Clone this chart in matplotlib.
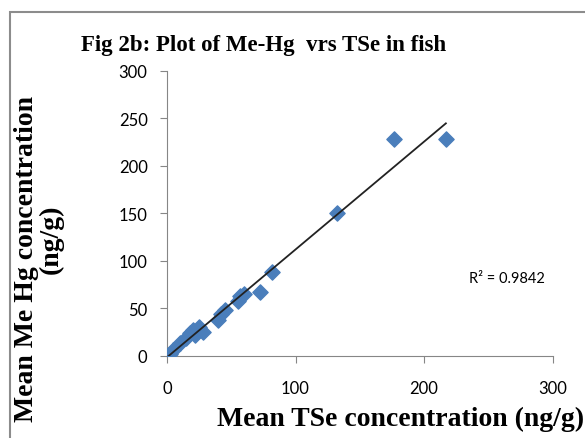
import matplotlib.pyplot as plt
import numpy as np
from matplotlib.patches import Rectangle

# mean TSe vs mean Me-Hg in fish (ng/g)
tse = [2, 5, 10, 15, 18, 20, 22, 25, 28, 40, 42, 45, 55, 57, 60, 72, 82, 132, 177, 217]
mehg = [2, 6, 14, 19, 24, 27, 22, 30, 25, 38, 44, 48, 58, 63, 65, 67, 88, 151, 228, 228]
xticks = [0, 100, 200, 300]
yticks = [0, 50, 100, 150, 200, 250, 300]

fig = plt.figure(figsize=(5.85, 4.39), dpi=100)
ax = fig.add_axes([0.2855, 0.187, 0.659, 0.649])

ax.scatter(tse, mehg, marker='D', s=60, color='#4A7EBB', zorder=3)

# linear trendline
slope, icpt = np.polyfit(tse, mehg, 1)
xs = np.array([0, max(tse)])
ax.plot(xs, slope * xs + icpt, color='#222222', lw=1.3, zorder=4)

ax.set_xlim(0, 300)
ax.set_ylim(0, 300)
ax.set_xticks(xticks)
ax.set_yticks(yticks)
for s in ['top', 'right']:
    ax.spines[s].set_visible(False)
for s in ['left', 'bottom']:
    ax.spines[s].set_color('#868686')
ax.tick_params(colors='#868686', labelcolor='black', labelsize=12, length=5,
               direction='out')
for lab in ax.get_xticklabels() + ax.get_yticklabels():
    lab.set_family('Lato')
ax.tick_params(axis='x', pad=12)
ax.tick_params(axis='y', pad=9)

ax.text(235, 78, 'R² = 0.9842', fontsize=10.5, family='Lato')

fig.text(0.451, 0.897, 'Fig 2b: Plot of Me-Hg  vrs TSe in fish', ha='center',
         va='center', family='Liberation Serif', fontweight='bold', fontsize=16.5)
fig.text(0.685, 0.045, 'Mean TSe concentration (ng/g)', ha='center',
         va='center', family='Liberation Serif', fontweight='bold', fontsize=20)
fig.text(0.045, 0.41, 'Mean Me Hg concentration', ha='center',
         va='center', rotation=90, family='Liberation Serif',
         fontweight='bold', fontsize=20)
fig.text(0.088, 0.455, '(ng/g)', ha='center',
         va='center', rotation=90, family='Liberation Serif',
         fontweight='bold', fontsize=20)

fig.patches.append(Rectangle((0.017, -0.1), 1.2, 1.07, transform=fig.transFigure,
                             fill=False, edgecolor='#8c8c8c', lw=1.5))

fig.savefig('out.png', dpi=100)
